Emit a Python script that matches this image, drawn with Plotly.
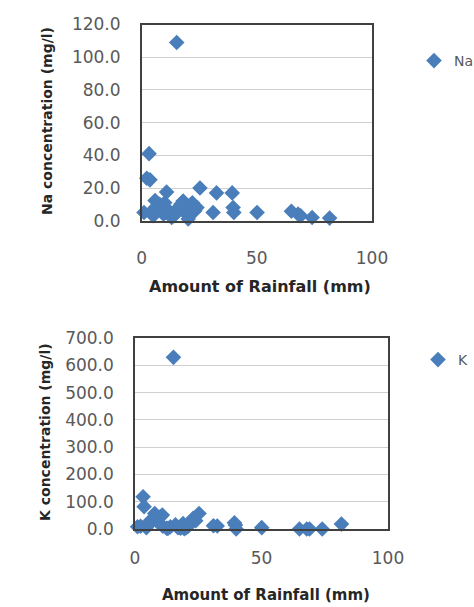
import plotly.graph_objects as go

# Shared rainfall amounts (mm) for each sample
rainfall = [15.2, 3.2, 3.6, 2.2, 10.8, 25.3, 32.5, 39.3, 5.8, 31.0,
            39.7, 40.0, 50.1, 65.0, 67.9, 69.0, 74.0, 81.6, 20.2, 4.5,
            6.0, 7.8, 8.5, 9.5, 11.0, 12.5, 14.0, 16.0, 17.0, 18.0,
            19.0, 21.0, 22.0, 23.0, 24.0, 13.0, 1.0, 10.0, 5.0, 19.5]
na_conc = [109.0, 41.0, 25.0, 26.0, 17.5, 20.0, 17.0, 17.0, 12.4, 5.0,
           8.0, 5.0, 5.0, 5.8, 4.0, 3.0, 2.0, 1.6, 1.0, 6.0,
           8.0, 10.0, 6.0, 4.0, 7.0, 5.0, 3.0, 8.0, 10.0, 12.0,
           6.0, 9.0, 11.0, 6.0, 8.0, 2.0, 5.0, 11.0, 3.0, 4.0]
k_conc = [629.0, 118.0, 82.0, 10.0, 51.0, 57.0, 11.0, 23.0, 20.0, 12.0,
          15.0, 0.0, 5.0, 0.0, 0.0, 0.0, 0.0, 18.0, 5.0, 5.0,
          30.0, 57.0, 40.0, 20.0, 10.0, 3.0, 8.0, 15.0, 5.0, 3.0,
          20.0, 10.0, 25.0, 39.0, 30.0, 2.0, 8.0, 45.0, 15.0, 1.0]

na_ticks = [0, 20, 40, 60, 80, 100, 120]
k_ticks = [0, 100, 200, 300, 400, 500, 600, 700]
x_ticks = [0, 50, 100]

W, H = 474, 607
BLUE = "#4a7ebb"
FONT = "DejaVu Sans"
TICKC = "#595959"

def px(x):
    return x / W

def py(y):
    return 1 - y / H

fig = go.Figure()
fig.add_trace(go.Scatter(x=rainfall, y=na_conc, mode="markers", name="Na",
                         marker=dict(symbol="diamond", size=12, color=BLUE),
                         cliponaxis=False,
                         xaxis="x", yaxis="y", legend="legend"))
fig.add_trace(go.Scatter(x=rainfall, y=k_conc, mode="markers", name="K",
                         marker=dict(symbol="diamond", size=12, color=BLUE),
                         cliponaxis=False,
                         xaxis="x2", yaxis="y2", legend="legend2"))

axis_common = dict(showline=True, linecolor="#404040", linewidth=1.5, mirror=True,
                   ticks="", tickfont=dict(family=FONT, size=17, color=TICKC),
                   zeroline=False, automargin=False)

fig.update_layout(
    width=W, height=H, paper_bgcolor="white", plot_bgcolor="white",
    margin=dict(l=0, r=0, t=0, b=0, autoexpand=False),
    font=dict(family=FONT),
    xaxis=dict(domain=[px(141.7), px(372)], range=[0, 100], tickvals=x_ticks,
               showgrid=False, anchor="y", ticklabelstandoff=21, **axis_common),
    yaxis=dict(domain=[py(220.7), py(24.5)], range=[0, 120], tickvals=na_ticks,
               tickformat=".1f", showgrid=True, gridcolor="#d0d0d0", gridwidth=1,
               anchor="x", ticklabelstandoff=16, **axis_common),
    xaxis2=dict(domain=[px(135), px(388)], range=[0, 100], tickvals=x_ticks,
                showgrid=False, anchor="y2", ticklabelstandoff=13, **axis_common),
    yaxis2=dict(domain=[py(529), py(338)], range=[0, 700], tickvals=k_ticks,
                tickformat=".1f", showgrid=True, gridcolor="#d0d0d0", gridwidth=1,
                anchor="x2", ticklabelstandoff=16, **axis_common),
    legend=dict(x=px(414), y=py(61), xanchor="left", yanchor="middle",
                font=dict(family=FONT, size=14, color=TICKC), bgcolor="rgba(0,0,0,0)",
                itemwidth=30),
    legend2=dict(x=px(418), y=py(360), xanchor="left", yanchor="middle",
                 font=dict(family=FONT, size=14, color=TICKC), bgcolor="rgba(0,0,0,0)",
                 itemwidth=30),
    showlegend=True,
)

fig.add_annotation(text="<b>Amount of Rainfall (mm)</b>", xref="paper", yref="paper",
                   x=px(260), y=py(286.5), showarrow=False,
                   font=dict(family=FONT, size=16, color="#262626"),
                   xanchor="center", yanchor="middle")
fig.add_annotation(text="<b>Amount of Rainfall (mm)</b>", xref="paper", yref="paper",
                   x=px(266), y=py(595), showarrow=False,
                   font=dict(family=FONT, size=15, color="#262626"),
                   xanchor="center", yanchor="middle")
fig.add_annotation(text="<b>Na concentration (mg/l)</b>", xref="paper", yref="paper",
                   x=px(47), y=py(121), showarrow=False, textangle=-90,
                   xanchor="center", yanchor="middle",
                   font=dict(family=FONT, size=14, color="#262626"))
fig.add_annotation(text="<b>K concentration (mg/l)</b>", xref="paper", yref="paper",
                   x=px(45), y=py(432), showarrow=False, textangle=-90,
                   xanchor="center", yanchor="middle",
                   font=dict(family=FONT, size=14, color="#262626"))

fig.write_html(
    "out.html",
    config={"displayModeBar": False},
    post_script="document.body.style.margin='0';"
                "document.documentElement.style.overflow='hidden';",
)
